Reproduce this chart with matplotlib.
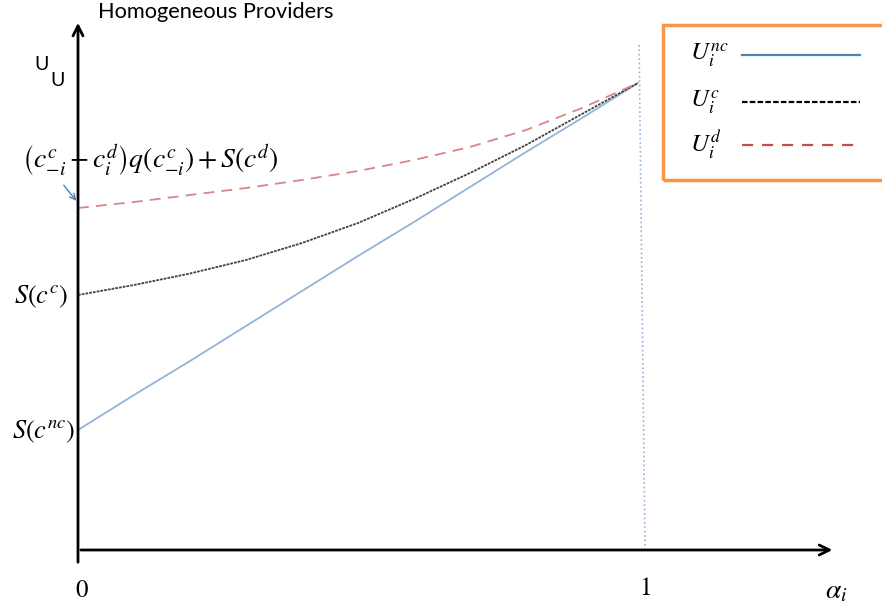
import numpy as np
import matplotlib.pyplot as plt
from matplotlib.patches import Rectangle

plt.rcParams['mathtext.fontset'] = 'stix'

# alpha_i values and the three utility curves
alpha = [0.0, 0.1, 0.2, 0.3, 0.4, 0.5, 0.6, 0.7, 0.8, 0.9, 1.0]
u_nc = [1.20, 1.55, 1.89, 2.24, 2.59, 2.94, 3.28, 3.63, 3.98, 4.32, 4.67]
u_c = [2.55, 2.65, 2.765, 2.90, 3.07, 3.27, 3.51, 3.77, 4.05, 4.36, 4.67]
u_d = [3.42, 3.48, 3.55, 3.62, 3.70, 3.79, 3.90, 4.03, 4.20, 4.42, 4.67]

# thin vertical guide at alpha = 1 (slightly slanted as in the sketch)
guide_x = [1.002, 1.0125]
guide_y = [5.05, 0.0]

fig = plt.figure(figsize=(8.82, 6.08), dpi=100)
ax = fig.add_axes([0, 0, 1, 1])
ax.set_xlim(-78 / 560, 804 / 560)
ax.set_ylim(-0.58, 5.50)
ax.axis('off')

# axes with arrows
ax.annotate('', xy=(0, 5.30), xytext=(0, -0.15),
            arrowprops=dict(arrowstyle='->', lw=2, color='black', mutation_scale=18))
ax.annotate('', xy=(1.352, 0), xytext=(0, 0),
            arrowprops=dict(arrowstyle='->', lw=2, color='black', mutation_scale=18))

ax.plot(guide_x, guide_y, color='#95B3D7', lw=1.2, ls=':')

ax.plot(alpha, u_nc, color='#95B3D7', lw=1.3)
ax.plot(alpha, u_c, color='#404040', lw=1.3, ls=(0, (1.5, 0.6)))
ax.plot(alpha, u_d, color='#D98585', lw=1.3, ls=(0, (6, 4)))

# texts
ax.text(20 / 560, 5.38, 'Homogeneous Providers', fontsize=15.7,
        family='Lato', ha='left', va='center')
ax.text(-36 / 560, 4.86, 'U', fontsize=14, family='Lato', ha='center', va='center')
ax.text(-20 / 560, 4.69, 'U', fontsize=14, family='Lato', ha='center', va='center')

ax.text(-56 / 560, 3.90, r'$\left(c^c_{-i}-c^d_i\right)q(c^c_{-i})+S\left(c^d\right)$',
        fontsize=20, ha='left', va='center')
ax.annotate('', xy=(0, 3.47), xytext=(-16 / 560, 3.67),
            arrowprops=dict(arrowstyle='->', lw=1, color='#4F81BD'))
ax.text(-10 / 560, 2.53, r'$S(c^c)$', fontsize=19, ha='right', va='center')
ax.text(-3 / 560, 1.18, r'$S(c^{nc})$', fontsize=19, ha='right', va='center')

ax.text(4 / 560, -0.40, r'$0$', fontsize=18, ha='center', va='center')
ax.text(567 / 560, -0.38, r'$1$', fontsize=18, ha='center', va='center')
ax.text(747 / 560, -0.40, r'$\alpha_i$', fontsize=20, ha='left', va='center')

# legend box
ax.add_patch(Rectangle((585 / 560, 3.70), 230 / 560, 1.55, fill=False,
                       edgecolor='#F79646', lw=2.5, clip_on=False))
leg_y = [4.95, 4.48, 4.05]
leg_lab = [r'$U_i^{nc}$', r'$U_i^{c}$', r'$U_i^{d}$']
leg_col = ['#4F81BD', 'black', '#C0504D']
leg_ls = ['-', (0, (2.5, 1)), (0, (5, 4))]
for yy, lab, col, ls in zip(leg_y, leg_lab, leg_col, leg_ls):
    ax.text(612 / 560, yy, lab, fontsize=18, ha='left', va='center')
    ax.plot([664 / 560, 782 / 560], [yy, yy], color=col, ls=ls, lw=1.6)

fig.savefig('out.png', dpi=100)
